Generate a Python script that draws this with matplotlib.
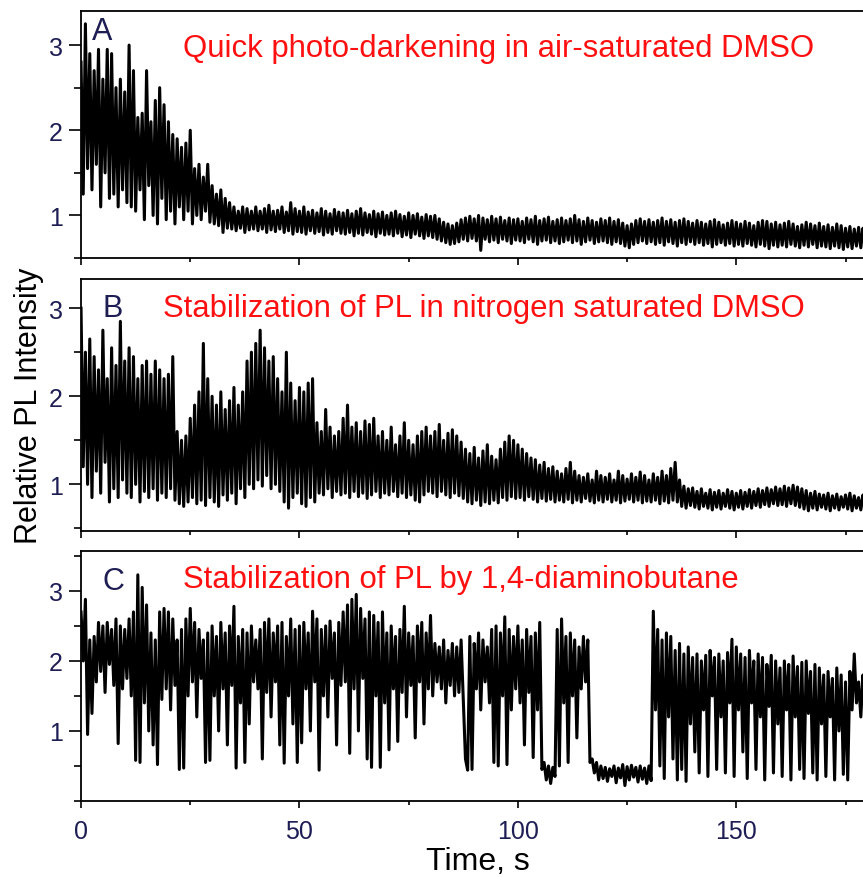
import numpy as np
import matplotlib
matplotlib.use('Agg')
import matplotlib.pyplot as plt
from matplotlib.ticker import MultipleLocator

plt.rcParams['font.family'] = ['Liberation Sans', 'DejaVu Sans']

# one sample pair per second: upper reading at t, lower reading at t + 0.5
seconds = np.arange(180)

a_hi = [2.80, 3.25, 2.90, 2.70, 2.95, 2.60, 2.95, 2.90, 2.50, 2.60,
        2.45, 3.00, 2.70, 2.15, 2.20, 2.70, 2.10, 2.35, 2.50, 2.30,
        2.10, 1.95, 1.90, 1.80, 1.85, 2.00, 1.55, 1.60, 1.45, 1.60,
        1.35, 1.25, 1.30, 1.20, 1.15, 1.10, 1.05, 1.10, 1.08, 1.05,
        1.10, 1.05, 1.08, 1.12, 1.05, 1.06, 1.10, 1.04, 1.15, 1.08,
        1.05, 1.10, 1.04, 1.06, 1.03, 1.08, 1.05, 1.02, 1.07, 1.04,
        1.03, 1.06, 1.02, 1.05, 1.08, 1.03, 1.01, 1.05, 1.02, 1.04,
        1.00, 1.03, 1.05, 1.01, 0.99, 1.03, 1.00, 1.02, 0.98, 1.01,
        0.99, 1.00, 0.96, 0.92, 0.90, 0.88, 0.91, 0.95, 0.97, 0.99,
        0.96, 1.00, 0.97, 0.95, 0.99, 0.96, 0.98, 0.94, 0.97, 0.95,
        0.96, 0.93, 0.97, 0.95, 0.99, 0.94, 0.96, 0.98, 0.93, 0.95,
        0.97, 0.94, 0.96, 1.00, 0.95, 0.93, 0.97, 0.94, 0.92, 0.96,
        0.94, 0.97, 0.93, 0.95, 0.91, 0.88, 0.90, 0.94, 0.96, 0.93,
        0.95, 0.92, 0.94, 0.97, 0.93, 0.95, 0.92, 0.94, 0.96, 0.93,
        0.91, 0.94, 0.92, 0.90, 0.93, 0.95, 0.92, 0.89, 0.91, 0.94,
        0.92, 0.90, 0.93, 0.91, 0.88, 0.92, 0.94, 0.93, 0.90, 0.92,
        0.89, 0.91, 0.93, 0.90, 0.87, 0.89, 0.92, 0.90, 0.88, 0.91,
        0.87, 0.89, 0.86, 0.90, 0.88, 0.85, 0.87, 0.84, 0.86, 0.85]
a_lo = [1.25, 1.55, 1.30, 1.60, 1.10, 1.50, 1.20, 1.25, 1.10, 1.30,
        1.15, 1.10, 1.05, 1.30, 0.95, 1.35, 1.00, 0.90, 1.20, 0.95,
        1.05, 0.90, 1.10, 0.95, 1.05, 0.90, 1.00, 0.95, 1.05, 0.92,
        0.90, 0.88, 0.80, 0.85, 0.84, 0.82, 0.85, 0.80, 0.83, 0.84,
        0.82, 0.84, 0.80, 0.83, 0.81, 0.84, 0.80, 0.82, 0.78, 0.81,
        0.80, 0.78, 0.82, 0.79, 0.81, 0.77, 0.80, 0.78, 0.82, 0.79,
        0.78, 0.80, 0.76, 0.79, 0.77, 0.80, 0.78, 0.75, 0.79, 0.77,
        0.78, 0.76, 0.79, 0.75, 0.77, 0.74, 0.78, 0.76, 0.73, 0.76,
        0.74, 0.72, 0.70, 0.68, 0.66, 0.67, 0.69, 0.72, 0.70, 0.73,
        0.70, 0.59, 0.72, 0.69, 0.71, 0.68, 0.72, 0.70, 0.67, 0.71,
        0.70, 0.68, 0.72, 0.69, 0.66, 0.70, 0.71, 0.68, 0.70, 0.67,
        0.69, 0.71, 0.68, 0.70, 0.66, 0.69, 0.71, 0.67, 0.69, 0.70,
        0.68, 0.66, 0.69, 0.67, 0.64, 0.62, 0.66, 0.68, 0.70, 0.67,
        0.69, 0.66, 0.68, 0.65, 0.69, 0.67, 0.64, 0.68, 0.66, 0.69,
        0.66, 0.68, 0.65, 0.67, 0.63, 0.66, 0.68, 0.65, 0.67, 0.64,
        0.66, 0.64, 0.67, 0.65, 0.63, 0.66, 0.64, 0.61, 0.65, 0.63,
        0.65, 0.63, 0.66, 0.64, 0.62, 0.65, 0.63, 0.66, 0.62, 0.64,
        0.63, 0.61, 0.64, 0.62, 0.60, 0.63, 0.61, 0.64, 0.62, 0.63]

b_hi = [3.00, 2.50, 2.65, 2.45, 2.30, 2.75, 2.20, 2.55, 2.35, 2.85,
        2.40, 2.55, 2.45, 2.20, 2.35, 2.40, 2.25, 2.40, 2.30, 2.20,
        2.25, 2.45, 1.60, 1.50, 1.55, 1.75, 1.90, 2.05, 2.60, 2.20,
        2.00, 1.90, 2.05, 1.85, 1.95, 2.10, 1.90, 2.05, 2.40, 2.50,
        2.60, 2.75, 2.55, 2.40, 2.45, 2.20, 2.05, 2.50, 2.15, 1.95,
        2.10, 2.05, 2.15, 2.20, 1.70, 1.60, 1.85, 1.65, 1.55, 1.60,
        1.75, 1.90, 1.65, 1.70, 1.60, 1.72, 1.68, 1.75, 1.55, 1.60,
        1.50, 1.65, 1.45, 1.55, 1.70, 1.50, 1.45, 1.55, 1.60, 1.65,
        1.55, 1.60, 1.68, 1.50, 1.58, 1.62, 1.55, 1.48, 1.40, 1.35,
        1.42, 1.30, 1.38, 1.45, 1.32, 1.28, 1.40, 1.48, 1.55, 1.50,
        1.45, 1.40, 1.35, 1.30, 1.28, 1.22, 1.25, 1.18, 1.20, 1.15,
        1.12, 1.18, 1.25, 1.15, 1.10, 1.08, 1.12, 1.05, 1.15, 1.10,
        1.08, 1.12, 1.05, 1.15, 1.10, 1.06, 1.12, 1.08, 1.14, 1.10,
        1.05, 1.12, 1.08, 1.15, 1.10, 1.18, 1.25, 1.05, 0.98, 0.95,
        0.96, 0.92, 0.95, 0.90, 0.94, 0.91, 0.93, 0.90, 0.94, 0.92,
        0.90, 0.93, 0.91, 0.94, 0.92, 0.95, 0.93, 0.96, 0.94, 0.97,
        0.95, 0.98, 0.96, 0.99, 0.97, 0.95, 0.93, 0.90, 0.92, 0.89,
        0.88, 0.90, 0.87, 0.89, 0.86, 0.88, 0.90, 0.87, 0.85, 0.88]
b_lo = [1.20, 1.00, 0.85, 1.15, 0.90, 1.25, 0.80, 0.95, 0.85, 1.05,
        0.90, 0.85, 1.00, 0.80, 0.92, 0.85, 0.95, 0.82, 0.90, 0.85,
        0.95, 0.82, 0.78, 0.75, 0.80, 0.85, 0.78, 0.82, 0.76, 0.85,
        0.80, 0.75, 0.88, 0.82, 0.90, 0.78, 0.95, 0.85, 1.00, 0.95,
        1.05, 0.98, 1.10, 0.95, 1.00, 0.92, 0.80, 0.73, 0.85, 0.90,
        0.78, 0.75, 0.85, 0.80, 0.90, 0.88, 0.95, 0.85, 0.92, 0.88,
        0.90, 0.85, 0.92, 0.86, 0.90, 0.84, 0.88, 0.92, 0.85, 0.90,
        0.88, 0.92, 0.86, 0.90, 0.85, 0.88, 0.82, 0.80, 0.88, 0.92,
        0.90, 0.86, 0.92, 0.88, 0.85, 0.90, 0.87, 0.84, 0.80, 0.78,
        0.82, 0.76, 0.80, 0.78, 0.82, 0.79, 0.85, 0.82, 0.86, 0.84,
        0.85, 0.82, 0.86, 0.83, 0.80, 0.84, 0.81, 0.83, 0.80, 0.82,
        0.80, 0.83, 0.79, 0.82, 0.80, 0.84, 0.81, 0.79, 0.82, 0.80,
        0.83, 0.80, 0.82, 0.79, 0.81, 0.83, 0.80, 0.82, 0.79, 0.81,
        0.80, 0.82, 0.78, 0.81, 0.79, 0.82, 0.80, 0.75, 0.73, 0.76,
        0.74, 0.72, 0.75, 0.73, 0.71, 0.74, 0.72, 0.75, 0.73, 0.71,
        0.74, 0.72, 0.75, 0.73, 0.76, 0.74, 0.77, 0.75, 0.78, 0.76,
        0.77, 0.75, 0.78, 0.76, 0.74, 0.72, 0.70, 0.73, 0.71, 0.74,
        0.72, 0.70, 0.73, 0.71, 0.74, 0.72, 0.70, 0.73, 0.71, 0.72]

c_hi = [2.70, 2.88, 2.30, 2.35, 2.55, 2.50, 2.55, 2.45, 2.60, 2.50,
        2.45, 2.60, 2.70, 3.23, 3.05, 2.80, 2.40, 2.30, 2.70, 2.75,
        2.70, 2.60, 2.30, 2.45, 2.60, 2.75, 2.55, 2.45, 2.30, 2.40,
        2.50, 2.35, 2.55, 2.40, 2.50, 2.78, 2.35, 2.45, 2.40, 2.50,
        2.30, 2.45, 2.55, 2.60, 2.40, 2.50, 2.55, 2.35, 2.60, 2.45,
        2.50, 2.55, 2.40, 2.71, 2.60, 2.45, 2.50, 2.57, 2.40, 2.55,
        2.70, 2.80, 2.88, 2.95, 2.75, 2.60, 2.70, 2.65, 2.55, 2.70,
        2.40, 2.50, 2.35, 2.45, 2.78, 2.40, 2.35, 2.50, 2.55, 2.40,
        2.65, 2.25, 2.20, 2.30, 2.15, 2.25, 2.20, 2.30, 0.60, 2.35,
        2.25, 2.40, 2.30, 2.20, 2.45, 2.50, 2.40, 2.63, 2.45, 2.35,
        2.50, 2.30, 2.45, 2.35, 2.40, 2.55, 0.55, 0.50, 0.48, 2.45,
        2.60, 2.35, 2.40, 2.30, 2.20, 2.35, 2.30, 0.60, 0.55, 0.50,
        0.48, 0.46, 0.50, 0.47, 0.52, 0.49, 0.51, 0.48, 0.50, 0.47,
        0.50, 2.71, 2.45, 2.30, 2.40, 2.35, 2.15, 2.25, 2.10, 2.20,
        2.05, 2.10, 2.00, 2.08, 2.15, 2.05, 2.10, 2.00, 2.12, 2.31,
        2.20, 2.10, 2.05, 2.15, 2.00, 2.10, 2.05, 1.95, 2.08, 2.00,
        1.90, 2.00, 1.95, 2.07, 1.92, 1.98, 2.00, 1.85, 1.95, 1.90,
        1.80, 1.85, 1.75, 1.90, 1.80, 1.70, 1.85, 2.10, 1.70, 1.80]
c_lo = [2.00, 0.95, 1.25, 1.70, 1.85, 1.55, 1.95, 1.65, 0.82, 1.60,
        1.75, 1.50, 0.58, 0.55, 1.40, 1.00, 0.80, 0.52, 1.45, 1.60,
        1.30, 1.65, 0.45, 0.47, 1.50, 1.70, 1.20, 1.75, 0.55, 0.58,
        1.50, 1.00, 1.60, 0.80, 1.65, 0.47, 1.40, 0.55, 1.10, 1.70,
        1.60, 0.60, 1.55, 1.20, 1.70, 0.80, 0.54, 1.50, 1.10, 0.55,
        0.83, 1.60, 1.00, 1.70, 0.44, 1.50, 1.20, 1.75, 0.80, 1.65,
        1.70, 0.68, 1.60, 1.00, 1.75, 0.60, 0.48, 1.50, 0.48, 1.40,
        0.73, 1.60, 0.85, 1.55, 1.20, 1.65, 0.90, 1.70, 1.10, 1.60,
        1.50, 1.70, 1.60, 1.40, 1.65, 1.50, 1.55, 1.45, 0.44, 0.45,
        1.60, 1.30, 1.70, 1.40, 0.55, 0.50, 1.50, 0.52, 1.30, 1.60,
        1.40, 0.80, 1.55, 0.62, 1.30, 0.45, 0.30, 0.25, 0.35, 0.50,
        1.40, 0.55, 1.50, 0.90, 1.60, 1.70, 0.55, 0.40, 0.30, 0.32,
        0.28, 0.35, 0.26, 0.33, 0.22, 0.30, 0.34, 0.27, 0.31, 0.25,
        0.29, 1.30, 0.50, 0.32, 1.20, 0.60, 0.30, 0.45, 0.28, 1.10,
        0.70, 0.40, 1.30, 0.35, 1.50, 0.45, 1.20, 0.40, 1.40, 0.35,
        1.30, 0.70, 0.32, 1.40, 0.45, 1.20, 0.30, 1.35, 0.40, 1.10,
        0.35, 1.30, 0.30, 1.20, 0.45, 0.32, 1.25, 0.40, 0.30, 1.10,
        0.35, 1.20, 0.30, 1.00, 0.38, 0.30, 1.30, 1.40, 1.20, 1.25]

letters = ['A', 'B', 'C']
titles = ['Quick photo-darkening in air-saturated DMSO',
          'Stabilization of PL in nitrogen saturated DMSO',
          'Stabilization of PL by 1,4-diaminobutane']
y_limits = [(0.5, 3.4), (0.47, 3.33), (0.0, 3.57)]
x_ticks = [0, 50, 100, 150]

navy = '#1e1e55'
red = '#ff1010'

fig = plt.figure(figsize=(8.63, 8.78), dpi=100)
# axes boxes in figure fractions (left, bottom, width, height)
boxes = [(0.0939, 0.705, 0.9061, 0.2813),
         (0.0939, 0.394, 0.9061, 0.287),
         (0.0939, 0.0866, 0.9061, 0.2847)]
letter_pos = [(0.014, 0.888), (0.027, 0.853), (0.027, 0.848)]
title_pos = [(0.130, 0.818), (0.105, 0.853), (0.130, 0.856)]

series = [(a_hi, a_lo), (b_hi, b_lo), (c_hi, c_lo)]

axes = []
for i, (hi, lo) in enumerate(series):
    ax = fig.add_axes(boxes[i])
    t = np.column_stack([seconds, seconds + 0.5]).ravel()
    y = np.column_stack([hi, lo]).ravel()
    ax.plot(t, y, color='black', linewidth=2.2, solid_joinstyle='round')

    ax.set_xlim(0, 179)
    ax.set_ylim(*y_limits[i])
    ax.set_xticks(x_ticks)
    ax.xaxis.set_minor_locator(MultipleLocator(25))
    ax.set_yticks([1, 2, 3])
    ax.yaxis.set_minor_locator(MultipleLocator(0.5))
    ax.tick_params(axis='y', which='major', direction='out', length=9,
                   width=1.2, labelsize=18, labelcolor=navy, pad=4)
    ax.tick_params(axis='y', which='minor', direction='out', length=5, width=1.2)
    ax.tick_params(axis='x', which='major', direction='out', length=5,
                   width=1.2, labelsize=18, labelcolor=navy, pad=8)
    ax.tick_params(axis='x', which='minor', direction='out', length=3, width=1.2)
    ax.spines['right'].set_visible(False)
    for s in ['left', 'top', 'bottom']:
        ax.spines[s].set_linewidth(1.3)
    if i < 2:
        ax.tick_params(axis='x', labelbottom=False)

    ax.text(*letter_pos[i], letters[i], transform=ax.transAxes, fontsize=22,
            color=navy, ha='left', va='baseline')
    ax.text(*title_pos[i], titles[i], transform=ax.transAxes, fontsize=22.4,
            color=red, ha='left', va='baseline')
    axes.append(ax)

fig.text(477.5 / 863, 1 - 862 / 878, 'Time, s', fontsize=23,
         ha='center', va='center')
fig.text(0.034, 0.538, 'Relative PL Intensity', rotation=90, fontsize=22,
         ha='center', va='center')

fig.savefig('out.png', dpi=100)
